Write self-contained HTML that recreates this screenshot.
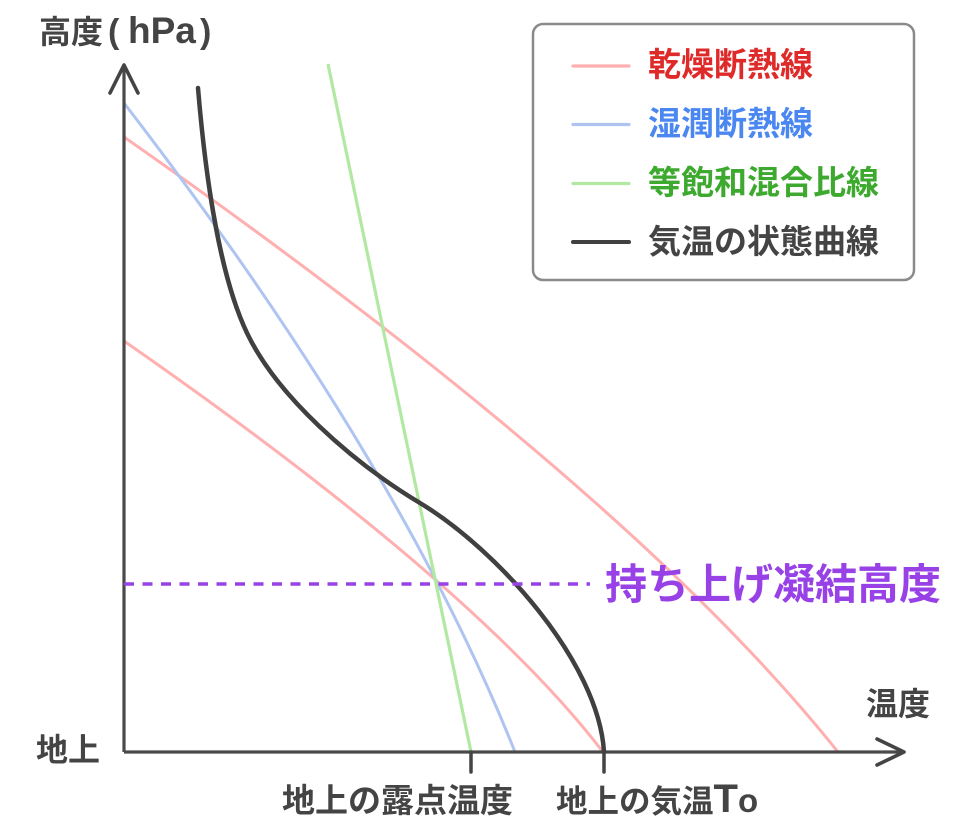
<!DOCTYPE html>
<html>
<head>
<meta charset="utf-8">
<style>
  html, body { margin: 0; padding: 0; background: #ffffff; }
  svg { display: block; }
  text { font-family: "Liberation Sans", "Noto Sans CJK JP", sans-serif; font-weight: bold; }
</style>
</head>
<body>
<svg width="969" height="831" viewBox="0 0 969 831" xmlns="http://www.w3.org/2000/svg">
  <rect x="0" y="0" width="969" height="831" fill="#ffffff"/>

  <!-- dry adiabats -->
  <path d="M124,137 Q630,491 838,752" fill="none" stroke="#ffafaf" stroke-width="3"/>
  <path d="M124,341 Q475,585 603,752" fill="none" stroke="#ffafaf" stroke-width="3"/>
  <!-- moist adiabat -->
  <path d="M124,103 Q399,460 515,752" fill="none" stroke="#afc4f1" stroke-width="3"/>
  <!-- saturation mixing ratio line -->
  <path d="M328,64 L471,752" fill="none" stroke="#b2e9a2" stroke-width="3.2"/>

  <!-- axes -->
  <line x1="124" y1="66" x2="124" y2="752" stroke="#4a4a4a" stroke-width="3.2"/>
  <line x1="124" y1="752" x2="902" y2="752" stroke="#4a4a4a" stroke-width="3.2"/>
  <polyline points="110,93 124,65 138,93" fill="none" stroke="#444444" stroke-width="3.6" stroke-linecap="round" stroke-linejoin="round"/>
  <polyline points="877,739 904,752 877,765" fill="none" stroke="#444444" stroke-width="3.6" stroke-linecap="round" stroke-linejoin="round"/>
  <!-- ticks -->
  <line x1="471" y1="752" x2="471" y2="772" stroke="#444444" stroke-width="3.5" stroke-linecap="round"/>
  <line x1="604" y1="752" x2="604" y2="772" stroke="#444444" stroke-width="3.5" stroke-linecap="round"/>

  <!-- state curve -->
  <path d="M198,88 C208,208 225.5,288 247,333 C277,396 352,462 420,503 C497,549.4 598.6,662 604,752"
        fill="none" stroke="#404040" stroke-width="4.5" stroke-linecap="round"/>

  <!-- LCL dashed line -->
  <line x1="124" y1="584" x2="590" y2="584" stroke="#9741e6" stroke-width="3.5" stroke-dasharray="10 8.5"/>

  <!-- axis labels -->
  <text x="39" y="43" font-size="32" fill="#444444">高度</text>
  <text x="108" y="43" font-size="34" fill="#444444">(</text>
  <text x="128" y="43" font-size="37" fill="#444444">hPa</text>
  <text x="200" y="43" font-size="34" fill="#444444">)</text>

  <text x="36" y="761" font-size="32" fill="#444444">地上</text>
  <text x="866" y="715" font-size="32" fill="#444444">温度</text>

  <text x="282" y="812" font-size="33" fill="#444444">地上の露点温度</text>
  <text x="556" y="812" font-size="31.5" fill="#444444">地上の気温<tspan font-size="40">T</tspan><tspan font-size="33">o</tspan></text>

  <text x="605" y="599" font-size="42" fill="#9741e6">持ち上げ凝結高度</text>

  <!-- legend -->
  <rect x="533" y="24" width="381" height="256" rx="10" ry="10" fill="#ffffff" stroke="#8a8a8a" stroke-width="2.5"/>
  <line x1="573" y1="66" x2="629" y2="66" stroke="#ffafaf" stroke-width="3.2" stroke-linecap="round"/>
  <line x1="573" y1="124.5" x2="629" y2="124.5" stroke="#afc4f1" stroke-width="3.2" stroke-linecap="round"/>
  <line x1="573" y1="183.5" x2="629" y2="183.5" stroke="#b2e9a2" stroke-width="3.2" stroke-linecap="round"/>
  <line x1="573" y1="242" x2="629" y2="242" stroke="#404040" stroke-width="4" stroke-linecap="round"/>

  <text x="648" y="76" font-size="33" fill="#df2a2a">乾燥断熱線</text>
  <text x="648" y="135" font-size="33" fill="#4a87f0">湿潤断熱線</text>
  <text x="648" y="194" font-size="33" fill="#3da92e">等飽和混合比線</text>
  <text x="648" y="253" font-size="33" fill="#444444">気温の状態曲線</text>
</svg>
</body>
</html>
